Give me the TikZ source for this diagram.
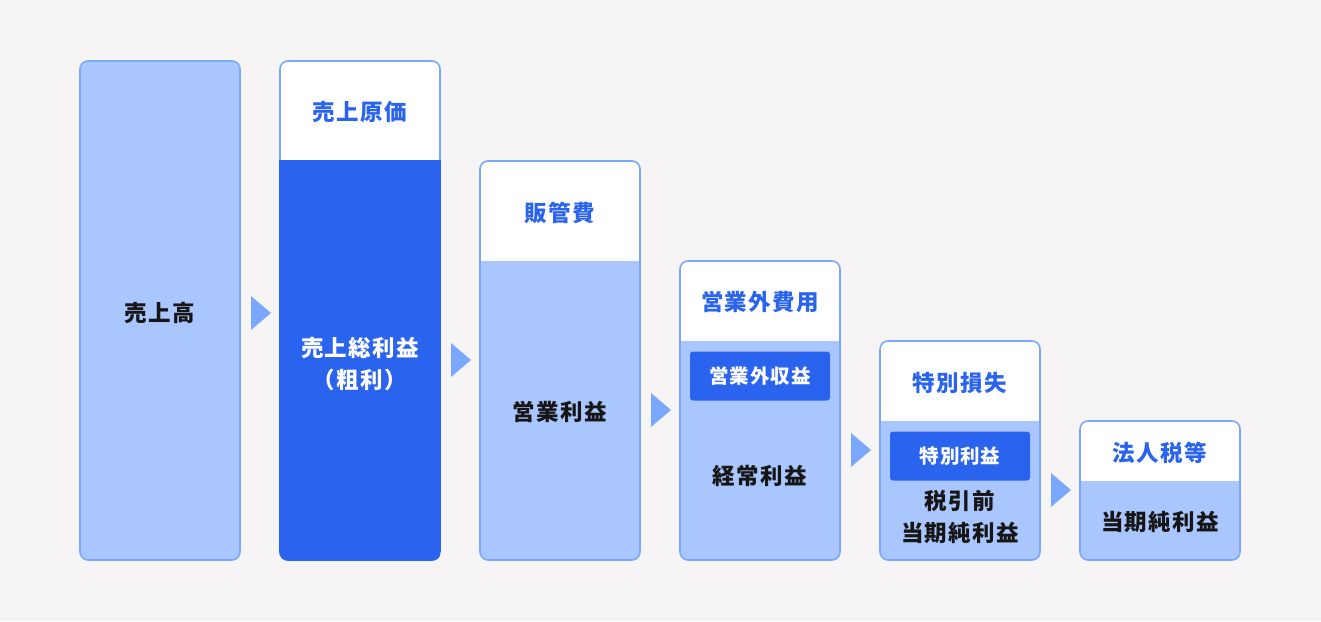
\documentclass[tikz,border=0pt]{standalone}
\usepackage{fontspec}
\newfontfamily\jp{Noto Sans CJK JP}[LetterSpace=6]
\newfontfamily\jps{Noto Sans CJK JP}[LetterSpace=5]
\definecolor{bg}{HTML}{F6F4F5}
\definecolor{light}{HTML}{A9C6FF}
\definecolor{edge}{HTML}{7AA8FF}
\definecolor{dark}{HTML}{2A64EE}
\definecolor{ink}{HTML}{161616}
\tikzset{
  lbl/.style={font=\jp\bfseries\fontsize{22.5}{32.5}\selectfont, align=center, inner sep=0pt},
  blk/.style={lbl, text=ink},
  head/.style={lbl, text=dark},
  wht/.style={lbl, text=white},
  inbox/.style={fill=dark, rounded corners=3pt, text=white, font=\jps\bfseries\fontsize{19.5}{22}\selectfont, minimum width=140pt, minimum height=49pt, inner sep=0pt},
  arr/.style={fill=edge, draw=none},
  frame/.style={draw=edge, line width=1.6pt, rounded corners=8pt}
}
\newcommand{\column}[5]{% x, top, header bottom, body fill, name
  \begin{scope}
    \clip[rounded corners=8pt] (#1,#2) rectangle ++(160,{560-#2});
    \fill[#4] (#1,#2) rectangle ++(160,{560-#2});
    \fill[white] (#1,#2) rectangle (#1+160,#3);
  \end{scope}
  \draw[frame] (#1,#2) rectangle (#1+160,560);
  \coordinate (#5) at (#1+80,#2);
}
\newcommand{\tri}[2]{\fill[arr] (#1,#2-17) -- (#1+20,#2) -- (#1,#2+17) -- cycle;}
\begin{document}
\begin{tikzpicture}[x=1pt,y=-1pt]
\fill[bg] (0,0) rectangle (1321,621);
\useasboundingbox (0,0) rectangle (1321,621);
% columns
\begin{scope}
\clip[rounded corners=8pt] (80,61) rectangle (240,560);
\fill[light] (80,61) rectangle (240,560);
\end{scope}
\draw[frame] (80,61) rectangle (240,560);
\column{280}{61}{160}{white}{c2}
\begin{scope}
\clip[rounded corners=8.8pt] (279.2,60.2) rectangle (440.8,560.8);
\fill[dark] (279.2,160) rectangle (440.8,560.8);
\end{scope}
\column{480}{161}{261}{light}{c3}
\column{680}{261}{341}{light}{c4}
\column{880}{341}{421}{light}{c5}
\column{1080}{421}{481}{light}{c6}
% arrows
\tri{251}{313}
\tri{451}{360}
\tri{651}{410}
\tri{851}{450}
\tri{1051}{490}
% labels
\node[blk] (t1) at (160,313) {売上高};
\node[head] (h2) at (360,112) {売上原価};
\node[wht] (t2) at (360,364) {売上総利益\\（粗利）};
\node[head] (h3) at (560,213) {販管費};
\node[blk] (t3) at (560,412) {営業利益};
\node[head] (h4) at (760,302) {営業外費用};
\node[inbox] (i4) at (760,376) {営業外収益};
\node[blk] (t4) at (760,476) {経常利益};
\node[head] (h5) at (960,383) {特別損失};
\node[inbox] (i5) at (960,456) {特別利益};
\node[blk] (t5) at (960,517) {税引前\\当期純利益};
\node[head] (h6) at (1160,453) {法人税等};
\node[blk] (t6) at (1160,522) {当期純利益};
\end{tikzpicture}
\end{document}
